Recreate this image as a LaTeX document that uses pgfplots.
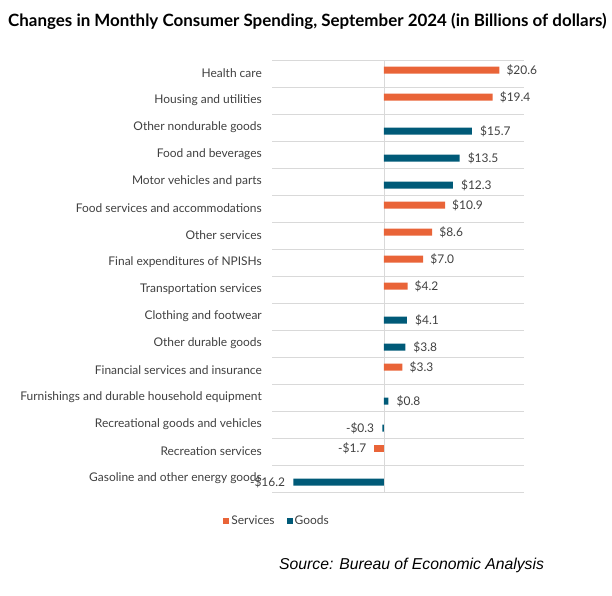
\documentclass[border=0pt]{standalone}
\usepackage{fontspec}
\setmainfont{Lato}
\newfontfamily\srcfont{Liberation Sans}
\usepackage{pgfplots}
\pgfplotsset{compat=1.18}
\definecolor{svc}{RGB}{233,100,56}
\definecolor{gds}{RGB}{0,90,120}
\definecolor{txt}{RGB}{64,64,64}
\definecolor{grd}{RGB}{217,217,217}
\begin{document}
\begin{tikzpicture}
\path[use as bounding box] (0,0) rectangle (612bp,596bp);
\node[anchor=west, inner sep=0pt, font=\bfseries\fontsize{17}{19}\selectfont] at (8bp,575bp) {Changes in Monthly Consumer Spending, September 2024 (in Billions of dollars)};
\node[anchor=west, inner sep=0pt, font=\srcfont\itshape\fontsize{15.8}{18}\selectfont] at (279bp,31bp) {Source: Bureau of Economic Analysis};
\begin{axis}[
 at={(272bp,104bp)}, anchor=south west,
 scale only axis, width=252bp, height=432bp,
 xbar, bar width=7bp,
 xmin=-20, xmax=25, ymin=-0.5, ymax=15.5, y dir=reverse,
 axis line style={draw=none},
 xtick=\empty,
 ytick={0,...,15},
 yticklabels={Health care, Housing and utilities, Other nondurable goods, Food and beverages, Motor vehicles and parts, Food services and accommodations, Other services, Final expenditures of NPISHs, Transportation services, Clothing and footwear, Other durable goods, Financial services and insurance, Furnishings and durable household equipment, Recreational goods and vehicles, Recreation services, Gasoline and other energy goods},
 major tick length=0pt,
 yticklabel style={font=\fontsize{12}{14}\selectfont, text=txt, inner sep=0pt, xshift=-10bp},
 extra y ticks={-0.5,0.5,...,15.5}, extra y tick labels={},
 extra y tick style={grid=major, major grid style={grd, line width=0.8pt}},
 extra x ticks={0}, extra x tick labels={},
 extra x tick style={grid=major, major grid style={grd, line width=0.8pt}},
 nodes near coords, point meta=explicit symbolic,
 legend columns=2,
 legend style={at={(0.02,-0.066)}, anchor=center, draw=none, fill=none, font=\fontsize{12}{14}\selectfont, text=txt, /tikz/every even column/.append style={column sep=10bp}},
]
\addplot[fill=svc, draw=none, bar shift=3.5bp,
 every node near coord/.style={font=\fontsize{12}{14}\selectfont, text=txt, inner sep=0pt, anchor=west, xshift=7bp, yshift=3bp},
 legend image code/.code={\fill[svc] (0bp,-3bp) rectangle (6bp,3bp);}] coordinates {
(20.6,0) [\$20.6]
(19.4,1) [\$19.4]
(10.9,5) [\$10.9]
(8.6,6) [\$8.6]
(7.0,7) [\$7.0]
(4.2,8) [\$4.2]
(3.3,11) [\$3.3]
};
\addlegendentry{Services}
\addplot[fill=gds, draw=none, bar shift=-3.5bp,
 every node near coord/.style={font=\fontsize{12}{14}\selectfont, text=txt, inner sep=0pt, anchor=west, xshift=8bp, yshift=-4bp},
 legend image code/.code={\fill[gds] (0bp,-3bp) rectangle (6bp,3bp);}] coordinates {
(15.7,2) [\$15.7]
(13.5,3) [\$13.5]
(12.3,4) [\$12.3]
(4.1,9) [\$4.1]
(3.8,10) [\$3.8]
(0.8,12) [\$0.8]
};
\addlegendentry{Goods}
\addplot[fill=svc, draw=none, bar shift=3.5bp, forget plot,
 every node near coord/.style={font=\fontsize{12}{14}\selectfont, text=txt, inner sep=0pt, anchor=east, xshift=-8bp, yshift=3bp}] coordinates {
(-1.7,14) [-\$1.7]
};
\addplot[fill=gds, draw=none, bar shift=-3.5bp, forget plot,
 every node near coord/.style={font=\fontsize{12}{14}\selectfont, text=txt, inner sep=0pt, anchor=east, xshift=-8bp, yshift=-4bp}] coordinates {
(-0.3,13) [-\$0.3]
(-16.2,15) [-\$16.2]
};
\end{axis}
\end{tikzpicture}
\end{document}
